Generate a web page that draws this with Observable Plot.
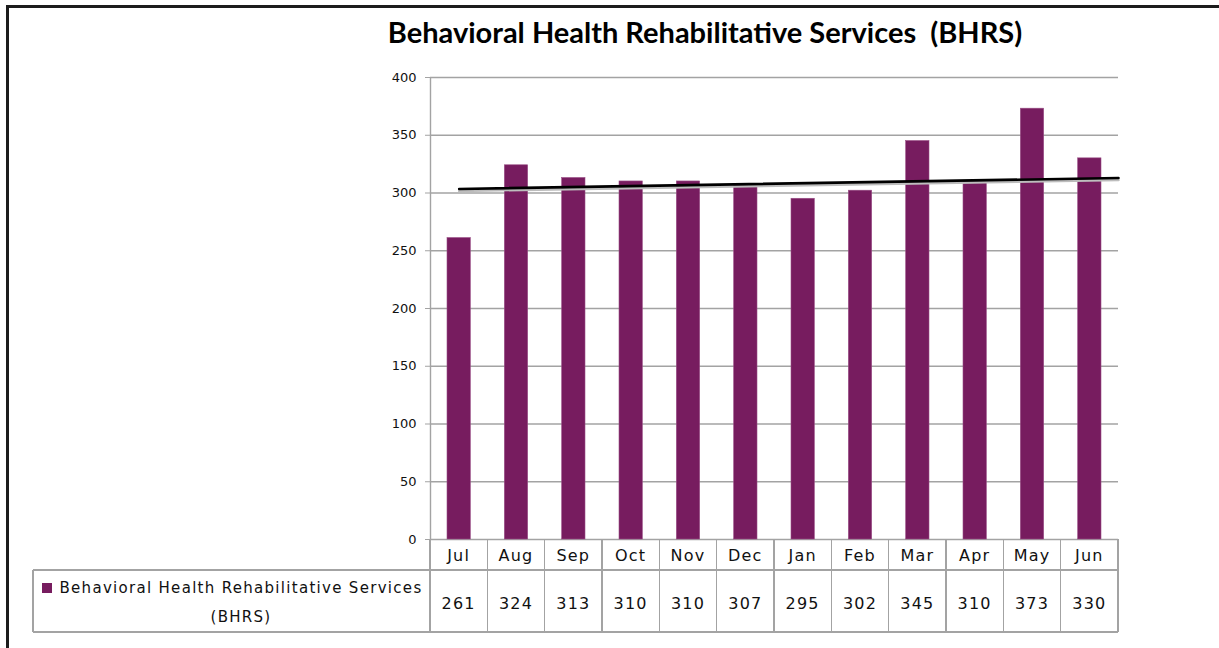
<!DOCTYPE html>
<html>
<head>
<meta charset="utf-8">
<script src="https://cdn.jsdelivr.net/npm/d3@7"></script>
<script src="https://cdn.jsdelivr.net/npm/@observablehq/plot@0.6"></script>
<style>
  html, body { margin: 0; padding: 0; background: #fff; }
  body { width: 1219px; height: 648px; overflow: hidden; position: relative; font-family: "DejaVu Sans", Verdana, sans-serif; }
  #frame { position: absolute; left: 6px; top: 5px; width: 1220px; height: 650px; border-top: 3px solid #1c1c1c; border-left: 3px solid #1c1c1c; }
  #chart { position: absolute; left: 0; top: 0; }
  #title { position: absolute; left: 705px; top: 15px; transform: translateX(-50%); white-space: pre; font-family: Lato, "Open Sans", sans-serif; font-weight: bold; font-size: 29px; line-height: 34px; color: #000; }
  .abs { position: absolute; }
  .cell { position: absolute; text-align: center; color: #111; font-size: 16px; letter-spacing: 1.2px; white-space: nowrap; transform: translate(-50%, -50%); }
  .leg { position: absolute; color: #111; font-size: 15px; letter-spacing: 1.3px; white-space: nowrap; transform: translate(-50%, -50%); }
</style>
</head>
<body>
<div id="frame"></div>
<div id="chart"></div>
<div id="title">Behavioral Health Rehabilitative Services  (BHRS)</div>
<script>
// ---- data ----
const months = ["Jul", "Aug", "Sep", "Oct", "Nov", "Dec", "Jan", "Feb", "Mar", "Apr", "May", "Jun"];
const values = [261, 324, 313, 310, 310, 307, 295, 302, 345, 310, 373, 330];
const yTicks = [0, 50, 100, 150, 200, 250, 300, 350, 400];
const seriesName = "Behavioral Health Rehabilitative Services";
const seriesNameLine2 = "(BHRS)";
// trend line as drawn (month position: Jul centre -> end of Jun column)
const trendPos = [0.5, 12];
const trendValues = [303.5, 313];

const barColor = "#771c5f";
const gridColor = "#a3a3a3";

const data = months.map((m, i) => ({month: m, idx: i, value: values[i]}));
const trend = trendPos.map((p, i) => ({x: p, v: trendValues[i]}));

const chart = Plot.plot({
  width: 1219,
  height: 548,
  marginLeft: 430,
  marginRight: 101,
  marginTop: 77,
  marginBottom: 9,
  style: {fontFamily: "DejaVu Sans, Verdana, sans-serif", fontSize: "13px", background: "transparent", color: "#111"},
  x: {domain: [0, 12], axis: null},
  y: {domain: [0, 400]},
  marks: [
    Plot.gridY(yTicks, {stroke: gridColor, strokeOpacity: 1, strokeWidth: 1.4}),
    Plot.axisY(yTicks, {tickSize: 5, tickPadding: 9, stroke: gridColor, fill: "#111", label: null, tickFormat: d => String(d)}),
    Plot.ruleX([0], {stroke: gridColor, strokeWidth: 1.4}),
    Plot.rectY(data, {x: "idx", interval: 1, y: "value", fill: barColor, stroke: "#9a4f86", strokeWidth: 0.6, insetLeft: 17, insetRight: 17}),
    Plot.line(trend, {x: "x", y: "v", stroke: "#bdbdbd", strokeWidth: 2.5, dy: 2}),
    Plot.line(trend, {x: "x", y: "v", stroke: "#000", strokeWidth: 2.6})
  ]
});
document.getElementById("chart").appendChild(chart);

// ---- data table below the plot, aligned with the plot's x scale ----
const xs = chart.scale("x");
const ys = chart.scale("y");
const X = v => xs.apply(v);
const y0 = ys.apply(0);          // top of table (x axis line)
const yMid = y0 + 31;           // line between month row and value row
const yBot = y0 + 93;           // bottom of table
const legLeft = 33;
const body = d3.select("body");

function hline(x1, x2, y) {
  body.append("div").attr("class", "abs")
    .style("left", x1 + "px").style("top", (y - 0.7) + "px")
    .style("width", (x2 - x1) + "px").style("height", "1.5px").style("background", gridColor);
}
function vline(x, y1, y2) {
  body.append("div").attr("class", "abs")
    .style("left", (x - 0.7) + "px").style("top", y1 + "px")
    .style("width", "1.5px").style("height", (y2 - y1) + "px").style("background", gridColor);
}
for (let i = 0; i <= months.length; i++) vline(X(i), y0, yBot);
hline(legLeft, X(12), yMid);
hline(legLeft, X(12), yBot);
vline(legLeft, yMid, yBot);

data.forEach(d => {
  body.append("div").attr("class", "cell")
    .style("left", X(d.idx + 0.5) + "px").style("top", (y0 + 16) + "px").text(d.month);
  body.append("div").attr("class", "cell")
    .style("left", X(d.idx + 0.5) + "px").style("top", (y0 + 64) + "px").text(d.value);
});

// legend cell
const legCx = 241;
const l1 = body.append("div").attr("class", "leg")
  .style("left", legCx + "px").style("top", (y0 + 49) + "px").text(seriesName);
body.append("div").attr("class", "leg")
  .style("left", legCx + "px").style("top", (y0 + 78) + "px").text(seriesNameLine2);
const w1 = l1.node().getBoundingClientRect();
body.append("div").attr("class", "abs")
  .style("left", (w1.left - 17) + "px").style("top", (y0 + 44) + "px")
  .style("width", "10px").style("height", "10px").style("background", barColor);
</script>
</body>
</html>
